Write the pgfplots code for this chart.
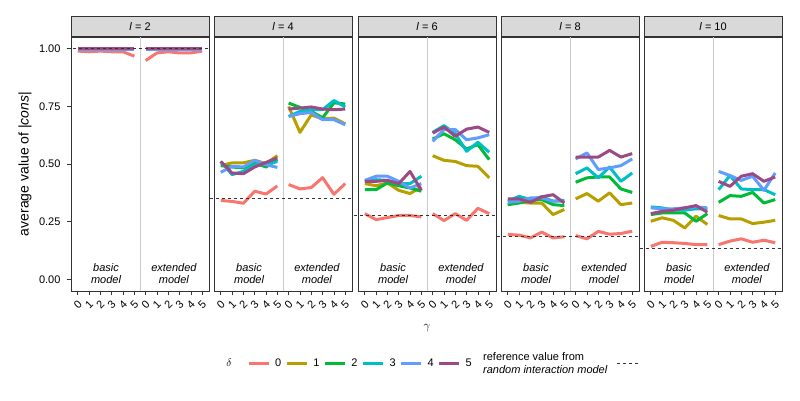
\documentclass[border=0pt]{standalone}
\usepackage{fontspec}
\setmainfont{Liberation Sans}
\usepackage{pgfplots}
\usepackage{pgfplotstable}
\pgfplotsset{compat=1.18}

\definecolor{c0}{HTML}{F8766D}
\definecolor{c1}{HTML}{B79F00}
\definecolor{c2}{HTML}{00BA38}
\definecolor{c3}{HTML}{00BFC4}
\definecolor{c4}{HTML}{619CFF}
\definecolor{c5}{HTML}{9A4A84}
\definecolor{framegray}{HTML}{333333}
\definecolor{stripfill}{HTML}{D9D9D9}
\definecolor{divgray}{HTML}{CCCCCC}

\newcommand{\smallfont}{\fontsize{11}{12.7}\selectfont}

% x: gamma 0-5 basic model, 6-11 extended model (gamma 0-5), nan row breaks the line
\pgfplotstableread{
x d0 d1 d2 d3 d4 d5
0 0.989 0.999 0.999 0.998 0.996 1.000
1 0.986 0.999 0.999 0.998 0.996 1.000
2 0.989 0.999 0.999 0.998 0.996 1.000
3 0.986 0.999 0.999 0.998 0.996 1.000
4 0.986 0.999 0.999 0.998 0.996 1.000
5 0.967 0.999 0.999 0.998 0.996 1.000
5.5 nan nan nan nan nan nan
6 0.948 0.999 0.999 0.998 0.996 1.000
7 0.981 0.999 0.999 0.998 0.996 1.000
8 0.986 0.999 0.999 0.998 0.996 1.000
9 0.981 0.999 0.999 0.998 0.996 1.000
10 0.981 0.999 0.999 0.998 0.996 1.000
11 0.989 0.999 0.999 0.998 0.996 1.000
}\tabA

\pgfplotstableread{
x d0 d1 d2 d3 d4 d5
0 0.342 0.493 0.493 0.511 0.464 0.511
1 0.338 0.505 0.487 0.454 0.490 0.461
2 0.330 0.505 0.483 0.468 0.487 0.458
3 0.382 0.516 0.505 0.497 0.516 0.487
4 0.370 0.502 0.487 0.497 0.497 0.507
5 0.405 0.536 0.519 0.511 0.485 0.526
5.5 nan nan nan nan nan nan
6 0.411 0.749 0.764 0.706 0.706 0.738
7 0.392 0.637 0.745 0.728 0.718 0.742
8 0.398 0.713 0.728 0.735 0.723 0.747
9 0.441 0.695 0.700 0.735 0.692 0.738
10 0.369 0.699 0.765 0.775 0.692 0.735
11 0.415 0.674 0.760 0.747 0.670 0.738
}\tabB

\pgfplotstableread{
x d0 d1 d2 d3 d4 d5
0 0.285 0.415 0.389 0.425 0.429 0.425
1 0.259 0.406 0.389 0.432 0.447 0.425
2 0.268 0.418 0.418 0.429 0.447 0.429
3 0.277 0.386 0.406 0.415 0.425 0.415
4 0.277 0.372 0.396 0.415 0.396 0.468
5 0.271 0.401 0.382 0.447 0.415 0.386
5.5 nan nan nan nan nan nan
6 0.285 0.536 0.608 0.637 0.598 0.634
7 0.255 0.516 0.631 0.666 0.649 0.660
8 0.285 0.511 0.605 0.631 0.649 0.620
9 0.256 0.493 0.565 0.555 0.605 0.651
10 0.308 0.490 0.584 0.594 0.613 0.660
11 0.285 0.440 0.519 0.551 0.627 0.637
}\tabC

\pgfplotstableread{
x d0 d1 d2 d3 d4 d5
0 0.195 0.324 0.324 0.339 0.334 0.349
1 0.192 0.334 0.331 0.360 0.339 0.349
2 0.180 0.331 0.343 0.346 0.353 0.334
3 0.205 0.331 0.346 0.358 0.353 0.358
4 0.180 0.281 0.324 0.339 0.339 0.367
5 0.185 0.303 0.320 0.343 0.339 0.331
5.5 nan nan nan nan nan nan
6 0.190 0.349 0.421 0.458 0.522 0.530
7 0.176 0.372 0.440 0.483 0.548 0.530
8 0.208 0.339 0.444 0.440 0.476 0.530
9 0.196 0.375 0.444 0.487 0.483 0.559
10 0.199 0.324 0.392 0.425 0.493 0.530
11 0.209 0.331 0.377 0.461 0.522 0.545
}\tabD

\pgfplotstableread{
x d0 d1 d2 d3 d4 d5
0 0.143 0.252 0.281 0.314 0.310 0.285
1 0.161 0.267 0.288 0.310 0.306 0.295
2 0.159 0.256 0.288 0.300 0.306 0.300
3 0.156 0.223 0.288 0.300 0.310 0.310
4 0.151 0.274 0.252 0.306 0.314 0.320
5 0.151 0.238 0.285 0.306 0.310 0.291
5.5 nan nan nan nan nan nan
6 0.151 0.277 0.334 0.389 0.468 0.425
7 0.166 0.262 0.363 0.450 0.450 0.403
8 0.176 0.262 0.360 0.392 0.429 0.447
9 0.161 0.242 0.377 0.389 0.447 0.458
10 0.170 0.248 0.331 0.389 0.386 0.425
11 0.159 0.256 0.346 0.367 0.461 0.444
}\tabE

\pgfplotsset{
  panel/.style={
    width=138pt, height=254pt, scale only axis, anchor=south west,
    xmin=-0.6, xmax=11.6, ymin=-0.05, ymax=1.05,
    clip=false, unbounded coords=jump,
    axis line style={draw=framegray, line width=0.9pt},
    xtick={0,...,11}, xticklabels={0,1,2,3,4,5,0,1,2,3,4,5},
    tick pos=left, ytick=\empty,
    tick align=outside, major tick length=4pt,
    every tick/.style={draw=framegray, line width=0.8pt},
    xticklabel style={yshift=-10pt, rotate=45, anchor=center},
    ticklabel style={font=\smallfont},
    /pgf/number format/assume math mode=true,
    every axis plot/.append style={line width=3pt, line join=round},
  },
}

% divider, the six delta series, reference line, strip and model labels
\newcommand{\panelbody}[3]{%
  \addplot[divgray, line width=1pt, forget plot] coordinates {(5.5,-0.05) (5.5,1.05)};
  \addplot[c0] table[y=d0]{#1};
  \addplot[c1] table[y=d1]{#1};
  \addplot[c2] table[y=d2]{#1};
  \addplot[c3] table[y=d3]{#1};
  \addplot[c4] table[y=d4]{#1};
  \addplot[c5] table[y=d5]{#1};
  \addplot[framegray, line width=0.8pt, dash pattern=on 3pt off 3pt, forget plot]
    coordinates {(-0.95,#3) (11.6,#3)};
  \node[draw=framegray, fill=stripfill, line width=0.9pt, minimum width=138pt,
    minimum height=20pt, inner sep=0pt, anchor=south, font=\smallfont]
    at (rel axis cs:0.5,1) {\textit{l} = #2};
  \node[font=\smallfont\itshape, align=center] at (axis cs:2.5,0.025) {basic\\model};
  \node[font=\smallfont\itshape, align=center] at (axis cs:8.5,0.025) {extended\\model};
}

\begin{document}
\begin{tikzpicture}
\path[use as bounding box] (0pt,0pt) rectangle (800pt,400pt);

\begin{axis}[panel, at={(71pt,109pt)},
  ytick={0,0.25,0.5,0.75,1},
  yticklabel style={xshift=-3pt, /pgf/number format/.cd, fixed, fixed zerofill, precision=2},
  legend style={at={(axis description cs:1.275,-0.2835)}, anchor=west, draw=none,
    fill=none, font=\smallfont, legend columns=-1, inner sep=0pt,
    /tikz/every odd column/.append style={column sep=3pt},
    /tikz/every even column/.append style={column sep=2pt}},
  legend image code/.code={\draw[#1, line width=3pt] (0pt,0pt) -- (20pt,0pt);},
]
\panelbody{\tabA}{2}{1.0}
\legend{0,1,2,3,4,5}
\end{axis}

\begin{axis}[panel, at={(214pt,109pt)}]
\panelbody{\tabB}{4}{0.349}
\end{axis}

\begin{axis}[panel, at={(358pt,109pt)}]
\panelbody{\tabC}{6}{0.277}
\end{axis}

\begin{axis}[panel, at={(501pt,109pt)}]
\panelbody{\tabD}{8}{0.185}
\end{axis}

\begin{axis}[panel, at={(644pt,109pt)}]
\panelbody{\tabE}{10}{0.134}
\end{axis}

\node[rotate=90, font=\fontsize{14}{16}\selectfont] at (25pt,236pt)
  {average value of \textbar\textit{cons}\textbar};
\node[font=\fontsize{12}{14}\selectfont] at (427pt,72pt) {$\gamma$};
\node[font=\fontsize{11}{13}\selectfont] at (229pt,37pt) {$\delta$};
\node[anchor=west, align=left, font=\smallfont, inner sep=0pt] at (483pt,37pt)
  {reference value from\\\textit{random interaction model}};
\draw[framegray, line width=0.8pt, dash pattern=on 3pt off 3pt] (617pt,37pt) -- (638pt,37pt);
\end{tikzpicture}
\end{document}
